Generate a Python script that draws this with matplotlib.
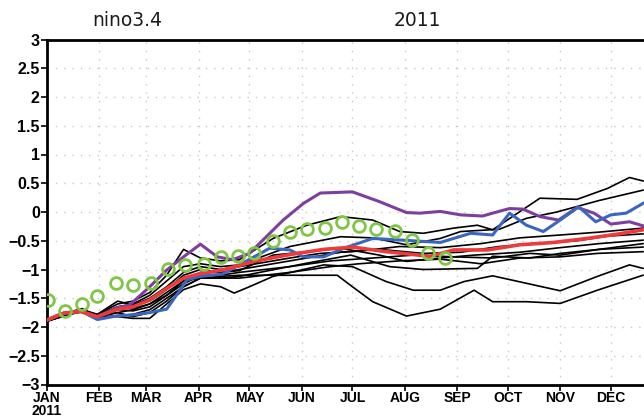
import matplotlib
matplotlib.use("Agg")
import matplotlib.pyplot as plt

# x values are days since 1 Jan 2011
month_days = [0, 31, 59, 90, 120, 151, 181, 212, 243, 273, 304, 334]
month_labels = ["JAN\n2011", "FEB", "MAR", "APR", "MAY", "JUN",
                "JUL", "AUG", "SEP", "OCT", "NOV", "DEC"]
y_ticks = [-3, -2.5, -2, -1.5, -1, -0.5, 0, 0.5, 1, 1.5, 2, 2.5, 3]
y_labels = ["\u22123", "\u22122.5", "\u22122", "\u22121.5", "\u22121", "\u22120.5",
            "0", "0.5", "1", "1.5", "2", "2.5", "3"]

# observed (green circles)
obs_days = [1, 11, 21, 30, 41, 51, 62, 72, 82, 93, 103, 113,
            123, 134, 144, 154, 165, 175, 185, 195, 206, 216, 226, 236]
obs_vals = [-1.53, -1.73, -1.6, -1.46, -1.23, -1.27, -1.24, -0.99, -0.92, -0.9, -0.78, -0.77,
            -0.72, -0.5, -0.34, -0.3, -0.27, -0.18, -0.24, -0.29, -0.33, -0.49, -0.71, -0.8]

# ensemble mean (red)
mean_days = [0, 10, 20, 30, 41, 51, 61, 71, 81, 91, 104, 124,
             144, 164, 181, 201, 227, 241, 261, 280, 300, 320, 339, 353]
mean_vals = [-1.88, -1.76, -1.73, -1.82, -1.70, -1.65, -1.53, -1.33, -1.15, -1.07, -1.01, -0.85,
             -0.74, -0.65, -0.61, -0.69, -0.77, -0.66, -0.66, -0.57, -0.53, -0.46, -0.38, -0.31]

# blue run
blue_days = [0, 10, 20, 30, 41, 51, 61, 71, 77, 83, 91, 104, 116, 132, 144, 152,
             164, 176, 193, 211, 233, 251, 264, 274, 284, 294, 304, 315, 325, 334, 343, 353]
blue_vals = [-1.88, -1.76, -1.72, -1.87, -1.81, -1.79, -1.75, -1.69, -1.44, -1.18, -1.12, -1.08,
             -0.89, -0.63, -0.66, -0.78, -0.78, -0.63, -0.46, -0.49, -0.53, -0.37, -0.4, -0.02,
             -0.23, -0.34, -0.14, 0.09, -0.17, -0.05, -0.02, 0.15]

# purple run
purple_days = [0, 10, 20, 30, 42, 49, 61, 71, 81, 91, 101, 110, 120, 130, 140, 152, 162,
               181, 197, 213, 221, 233, 245, 258, 264, 274, 282, 292, 303, 314, 324, 334, 345, 353]
purple_vals = [-1.88, -1.76, -1.72, -1.82, -1.66, -1.62, -1.3, -1.01, -0.78, -0.56, -0.78, -0.83,
               -0.72, -0.43, -0.14, 0.15, 0.33, 0.35, 0.18, -0.01, -0.02, 0.01, -0.05, -0.07,
               -0.02, 0.06, 0.05, -0.08, -0.14, 0.08, -0.02, -0.21, -0.17, -0.24]

# other members (black)
early_days = [0, 11, 21, 30, 42, 51, 61, 71, 81, 91]

m1_days = early_days + [103, 114, 134, 154, 174, 193, 209, 223, 241, 255, 264, 292, 314, 332, 345, 353]
m1_vals = [-1.9, -1.78, -1.72, -1.78, -1.6, -1.55, -1.4, -1.1, -0.65, -0.8,
           -0.85, -0.83, -0.46, -0.23, -0.08, -0.14, -0.34, -0.37, -0.28, -0.23, -0.31, 0.24, 0.22, 0.41, 0.6, 0.54]

m2_days = early_days + [103, 114, 144, 174, 193, 213, 233, 245, 268, 284, 302, 327, 353]
m2_vals = [-1.9, -1.77, -1.7, -1.8, -1.65, -1.6, -1.45, -1.2, -0.95, -0.9,
           -0.95, -0.92, -0.6, -0.43, -0.45, -0.57, -0.46, -0.34, -0.3, -0.11, 0.0, 0.2, 0.38]

m3_days = early_days + [103, 114, 144, 162, 185, 209, 233, 257, 280, 304, 327, 353]
m3_vals = [-1.88, -1.76, -1.68, -1.82, -1.7, -1.62, -1.5, -1.3, -1.05, -0.95,
           -1.0, -0.95, -0.8, -0.72, -0.68, -0.6, -0.62, -0.55, -0.45, -0.4, -0.35, -0.28]

m4_days = early_days + [103, 114, 144, 174, 197, 223, 245, 268, 292, 314, 332, 353]
m4_vals = [-1.9, -1.8, -1.7, -1.78, -1.55, -1.62, -1.55, -1.35, -1.1, -1.0,
           -1.05, -1.0, -0.85, -0.7, -0.65, -0.72, -0.7, -0.6, -0.55, -0.5, -0.42, -0.38]

m5_days = early_days + [103, 114, 134, 154, 174, 197, 213, 233, 253, 280, 304, 327, 353]
m5_vals = [-1.88, -1.78, -1.74, -1.83, -1.75, -1.7, -1.6, -1.4, -1.2, -1.05,
           -1.05, -1.02, -0.75, -0.69, -0.63, -0.75, -0.86, -0.8, -0.75, -0.7, -0.62, -0.55, -0.49]

m6_days = early_days + [103, 114, 144, 168, 193, 217, 241, 264, 286, 304, 327, 353]
m6_vals = [-1.9, -1.8, -1.72, -1.8, -1.7, -1.72, -1.65, -1.45, -1.25, -1.1,
           -1.1, -1.05, -0.95, -0.85, -0.8, -0.75, -0.78, -0.8, -0.72, -0.75, -0.65, -0.61]

m7_days = early_days + [103, 114, 144, 168, 185, 209, 233, 257, 280, 304, 326, 353]
m7_vals = [-1.89, -1.78, -1.7, -1.84, -1.8, -1.78, -1.7, -1.5, -1.3, -1.15,
           -1.15, -1.15, -1.05, -0.95, -0.9, -0.85, -0.82, -0.9, -0.8, -0.78, -0.72, -0.69]

m8_days = early_days + [103, 111, 120, 134, 164, 181, 201, 217, 233, 247, 264, 284, 304, 326, 345, 353]
m8_vals = [-1.9, -1.8, -1.73, -1.82, -1.82, -1.85, -1.85, -1.6, -1.35, -1.25,
           -1.3, -1.41, -1.3, -1.12, -0.92, -0.95, -1.21, -1.36, -1.36, -1.21, -1.11, -1.24,
           -1.37, -1.12, -0.92, -0.98]

m9_days = early_days + [103, 114, 172, 181, 193, 213, 233, 253, 264, 284, 304, 326, 353]
m9_vals = [-1.9, -1.78, -1.72, -1.8, -1.75, -1.82, -1.75, -1.55, -1.3, -1.15,
           -1.12, -1.1, -1.1, -1.3, -1.56, -1.81, -1.69, -1.36, -1.56, -1.56, -1.59, -1.36, -1.1]

m10_days = early_days + [103, 114, 154, 180, 203, 223, 255, 264, 286, 304, 327, 353]
m10_vals = [-1.89, -1.77, -1.7, -1.79, -1.65, -1.68, -1.6, -1.45, -1.2, -1.15,
            -1.15, -1.12, -0.89, -0.75, -0.95, -1.0, -0.98, -0.77, -0.8, -0.72, -0.65, -0.55]

members = [(m1_days, m1_vals), (m2_days, m2_vals), (m3_days, m3_vals), (m4_days, m4_vals),
           (m5_days, m5_vals), (m6_days, m6_vals), (m7_days, m7_vals), (m8_days, m8_vals),
           (m9_days, m9_vals), (m10_days, m10_vals)]

fig = plt.figure(figsize=(6.44, 4.2), dpi=100)
ax = fig.add_axes([46.7 / 644, 35.5 / 420, 1 - 46.7 / 644, 345 / 420])

for d, v in members:
    ax.plot(d, v, color="black", lw=1.2, zorder=3)
ax.plot(purple_days, purple_vals, color="#7d3f9e", lw=2.2, zorder=4)
ax.plot(blue_days, blue_vals, color="#3b66bf", lw=2.2, zorder=5)
ax.plot(mean_days, mean_vals, color="#ee3a3a", lw=2.6, zorder=6)
ax.plot(obs_days, obs_vals, ls="none", marker="o", ms=8.5, mfc="none",
        mec="#80c646", mew=2.0, zorder=7)

ax.set_xlim(0, 353.6)
ax.set_ylim(-3, 3)
ax.set_xticks(month_days)
ax.set_xticklabels(month_labels, linespacing=0.9)
ax.set_yticks(y_ticks)
ax.set_yticklabels(y_labels)

tick_font = ["Liberation Sans Narrow", "Liberation Sans", "DejaVu Sans"]
for lab in ax.get_xticklabels():
    lab.set_family(tick_font)
    lab.set_fontweight("bold")
    lab.set_fontsize(10)
for lab in ax.get_yticklabels():
    lab.set_family(tick_font)
    lab.set_fontweight("bold")
    lab.set_fontsize(11.5)

ax.tick_params(axis="both", direction="out", length=4, width=1.2, pad=1)
ax.grid(True, color="#c8c8c8", ls=(0, (1, 5)), lw=1.0)
ax.set_axisbelow(True)
for side in ["left", "bottom", "top"]:
    ax.spines[side].set_linewidth(2.0)
ax.spines["right"].set_visible(False)

fig.text(127 / 644, 1 - 21 / 420, "nino3.4", ha="center", va="center",
         fontsize=13.5, family="DejaVu Sans", color="#1a1a1a")
fig.text(417 / 644, 1 - 21 / 420, "2011", ha="center", va="center",
         fontsize=13.5, family="DejaVu Sans", color="#1a1a1a")

fig.savefig("out.png", dpi=100)
